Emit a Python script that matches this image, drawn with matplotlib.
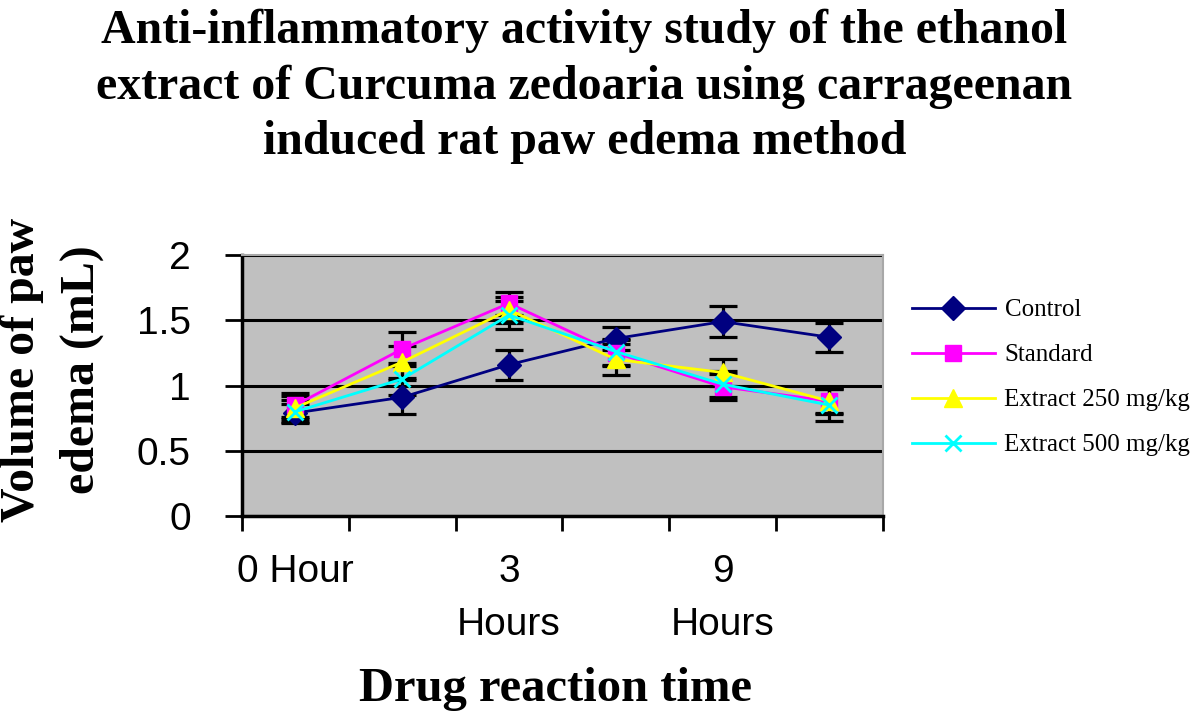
import matplotlib.pyplot as plt
import numpy as np

plt.rcParams['font.family'] = ['Liberation Sans', 'DejaVu Sans']

# categories (Excel only labels every other one)
categories = ['0 Hour', '1 Hour', '3\nHours', '6\nHours', '9\nHours', '12\nHours']
shown_labels = ['0 Hour', '', '3\nHours', '', '9\nHours', '']

control = [0.79, 0.91, 1.16, 1.36, 1.49, 1.37]
control_err = [0.07, 0.13, 0.115, 0.09, 0.12, 0.11]
standard = [0.85, 1.28, 1.63, 1.25, 0.99, 0.88]
standard_err = [0.09, 0.13, 0.09, 0.10, 0.10, 0.09]
ext250 = [0.83, 1.18, 1.58, 1.20, 1.10, 0.88]
ext250_err = [0.09, 0.12, 0.10, 0.12, 0.10, 0.10]
ext500 = [0.80, 1.05, 1.54, 1.26, 1.01, 0.85]
ext500_err = [0.09, 0.12, 0.11, 0.10, 0.10, 0.12]

series = [
    ('Control', control, control_err, '#000080', 'D', 12),
    ('Standard', standard, standard_err, '#ff00ff', 's', 11),
    ('Extract 250 mg/kg', ext250, ext250_err, '#ffff00', '^', 13),
    ('Extract 500 mg/kg', ext500, ext500_err, '#00ffff', 'x', 11),
]

fig = plt.figure(figsize=(12, 7.2), dpi=100)
ax = fig.add_axes([0.2017, 0.2833, 0.534, 0.3625])
ax.set_facecolor('#c0c0c0')

x = np.arange(len(categories))
handles = []
for name, vals, err, col, mk, ms in series:
    ax.errorbar(x, vals, yerr=err, fmt='none', ecolor='black', elinewidth=2.3,
                capsize=10, capthick=2.3, zorder=2)
    h, = ax.plot(x, vals, color=col, marker=mk, markersize=ms, linewidth=2,
                 markeredgecolor=col, markeredgewidth=2 if mk == 'x' else 1,
                 label=name, zorder=3)
    handles.append(h)

ax.set_ylim(0, 2)
ax.set_xlim(-0.5, len(categories) - 0.5)
ax.set_yticks([0, 0.5, 1, 1.5, 2])
ax.set_yticklabels(['0', '0.5', '1', '1.5', '2'], fontsize=28)
ax.grid(axis='y', color='black', linewidth=2.2)
ax.set_axisbelow(True)

ax.set_xticks(np.arange(-0.5, len(categories)), labels=[])
ax.set_xticks(x, minor=True)
ax.set_xticklabels(shown_labels, minor=True, fontsize=28, linespacing=1.62, va='top')
ax.tick_params(axis='x', which='major', length=11, width=2, direction='out')
ax.tick_params(axis='x', which='minor', length=0, pad=27)
ax.tick_params(axis='y', length=12, width=2, direction='out', pad=25)

for s in ['top', 'right']:
    ax.spines[s].set_color('#a8a8a8')
    ax.spines[s].set_linewidth(1.5)
for s in ['left', 'bottom']:
    ax.spines[s].set_color('black')
    ax.spines[s].set_linewidth(2.5)

serif = ['Liberation Serif', 'DejaVu Serif']
fig.text(0.487, 0.88, 'Anti-inflammatory activity study of the ethanol\n'
         'extract of Curcuma zedoaria using carrageenan\n'
         'induced rat paw edema method',
         ha='center', va='center', fontsize=34.5, fontweight='bold', family=serif,
         linespacing=1.33)
fig.text(0.043, 0.486, 'Volume of paw\nedema (mL)', rotation=90, ha='center', va='center',
         fontsize=34.5, fontweight='bold', family=serif, linespacing=1.47)
fig.text(0.463, 0.043, 'Drug reaction time', ha='center', va='center',
         fontsize=35, fontweight='bold', family=serif)

fig.legend(handles=handles, loc='upper left', bbox_to_anchor=(0.76, 0.585),
           frameon=False, prop={'family': serif, 'size': 18}, handlelength=3.3,
           handletextpad=0.4, labelspacing=0.9, borderpad=0, borderaxespad=0)

plt.savefig('out.png', dpi=100)
